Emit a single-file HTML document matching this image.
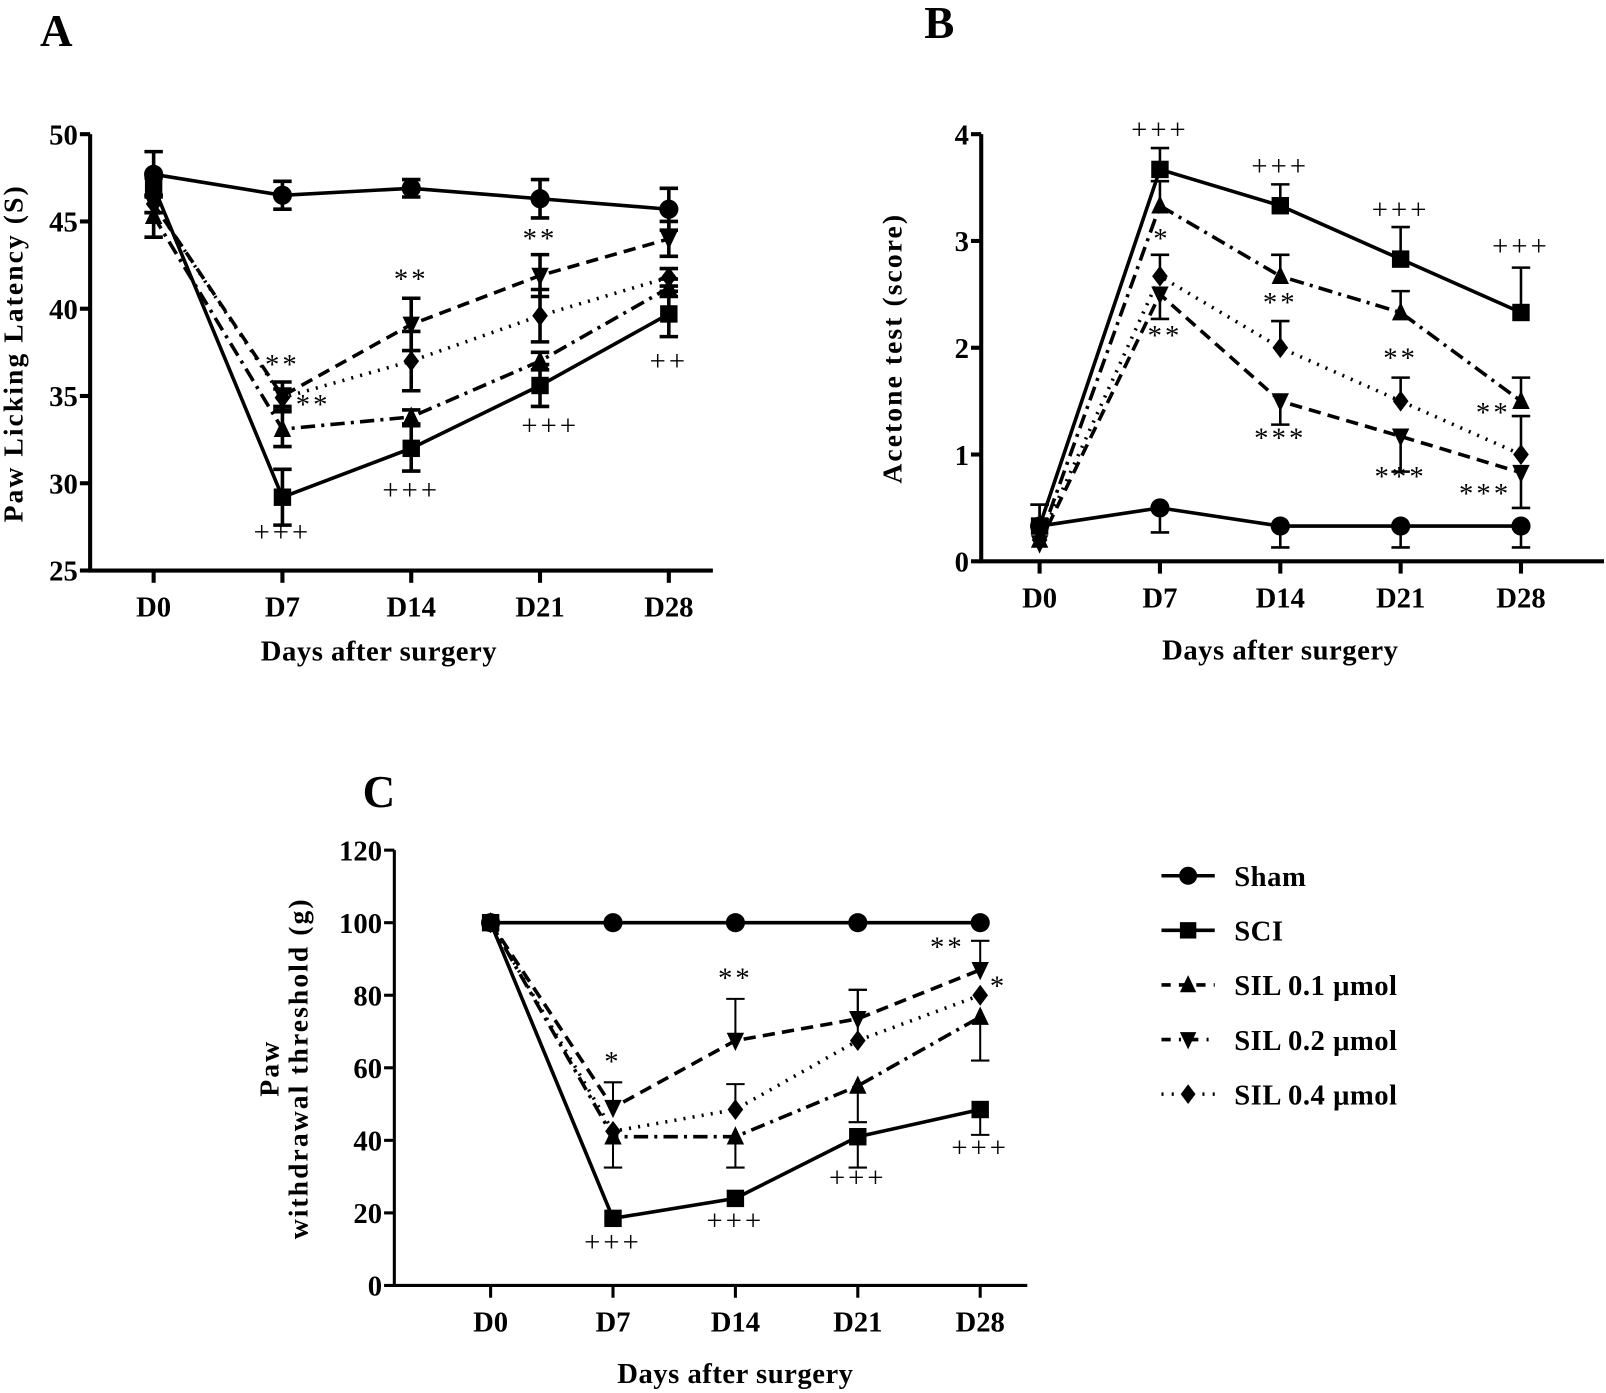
<!DOCTYPE html>
<html><head><meta charset="utf-8">
<style>
html,body{margin:0;padding:0;background:#fff;}
svg{display:block;}
text{font-family:"Liberation Serif",serif;fill:#000;}
</style></head>
<body>
<svg id="fig" width="1606" height="1393" viewBox="0 0 1568 1360" preserveAspectRatio="none" xmlns="http://www.w3.org/2000/svg"></svg>
<script>
const days = ["D0","D7","D14","D21","D28"];
const seriesNames = ["Sham","SCI","SIL 0.1 μmol","SIL 0.2 μmol","SIL 0.4 μmol"];
// Panel A
const aTicks = [25,30,35,40,45,50];
const aSham = [47.7,46.5,46.9,46.3,45.7];
const aSCI = [47.0,29.2,32.0,35.6,39.7];
const aSil1 = [45.3,33.1,33.8,37.0,41.2];
const aSil2 = [46.0,35.0,39.1,41.9,44.0];
const aSil4 = [46.0,34.9,37.0,39.6,41.8];
const aShamErr = [1.3,0.8,0.5,1.1,1.2];
const aSCIErr = [0.5,1.6,1.3,1.2,1.3];
const aSil1Err = [1.2,1.0,0.4,0.5,0.5];
const aSil2Err = [0.5,0.8,1.5,1.2,1.0];
const aSil4Err = [0.5,0.5,1.7,1.5,0.5];
const aAnnot = [[1,36.8,"**",0],[1,34.5,"**",30],[1,27.2,"+++",0],[2,41.7,"**",0],[2,29.6,"+++",0],[3,44.0,"**",0],[3,33.3,"+++",10],[4,37.0,"++",0]];
// Panel B
const bTicks = [0,1,2,3,4];
const bSham = [0.33,0.5,0.33,0.33,0.33];
const bSCI = [0.33,3.67,3.33,2.83,2.33];
const bSil1 = [0.2,3.33,2.67,2.33,1.5];
const bSil2 = [0.17,2.5,1.5,1.17,0.83];
const bSil4 = [0.2,2.67,2.0,1.5,1.0];
const bShamErr = [0.2,-0.23,-0.2,-0.2,-0.2];
const bSCIErr = [0.2,0.2,0.2,0.3,0.42];
const bSil1Err = [0,0.23,0.2,0.2,0.22];
const bSil2Err = [0,-0.23,-0.22,-0.33,-0.33];
const bSil4Err = [0,0.2,0.25,0.22,0.36];
const bAnnot = [[1,4.04,"+++",0],[2,3.70,"+++",0],[3,3.29,"+++",0],[4,2.95,"+++",0],[1,3.02,"*",2],[1,2.11,"**",5],[2,2.42,"**",0],[2,1.15,"***",0],[3,1.90,"**",0],[3,0.79,"***",0],[4,1.39,"**",-27],[4,0.63,"***",-35]];
// Panel C
const cTicks = [0,20,40,60,80,100,120];
const cSham = [100,100,100,100,100];
const cSCI = [100,18.5,24,41,48.5];
const cSil1 = [100,41,41,55,74];
const cSil2 = [100,49,67.5,73.5,87];
const cSil4 = [100,42.5,48.5,67.5,80];
const cShamErr = [0,0,0,0,0];
const cSCIErr = [0,0,0,-8.5,-7];
const cSil1Err = [0,-8.5,-8.5,-10,-12];
const cSil2Err = [0,7,11.5,8,8];
const cSil4Err = [0,0,7,14,0];
const cAnnot = [[1,61.6,"*",0],[1,11.9,"+++",0],[2,84.7,"**",0],[2,17.8,"+++",0],[3,29.7,"+++",0],[4,93.2,"**",-32],[4,82.5,"*",18],[4,38,"+++",0]];

const NS="http://www.w3.org/2000/svg";
const svg=document.getElementById('fig');
function el(tag,attrs,parent){const e=document.createElementNS(NS,tag);for(const k in attrs)e.setAttribute(k,attrs[k]);(parent||svg).appendChild(e);return e;}
const dashes=["","","14 6 3 6","12 7","2 7"];
const markers=["circle","square","tri","invtri","diamond"];
function marker(g,type,x,y,s){
  let m;
  if(type==="circle") m=el('circle',{cx:x,cy:y,r:s*0.55,fill:'#000'},g);
  else if(type==="square") m=el('rect',{x:x-s*0.5,y:y-s*0.5,width:s,height:s,fill:'#000'},g);
  else if(type==="tri") m=el('polygon',{points:`${x},${y-s*0.6} ${x-s*0.5},${y+s*0.45} ${x+s*0.5},${y+s*0.45}`,fill:'#000'},g);
  else if(type==="invtri") m=el('polygon',{points:`${x},${y+s*0.6} ${x-s*0.5},${y-s*0.45} ${x+s*0.5},${y-s*0.45}`,fill:'#000'},g);
  else m=el('polygon',{points:`${x},${y-s*0.6} ${x+s*0.45},${y} ${x},${y+s*0.6} ${x-s*0.45},${y}`,fill:'#000'},g);
  
  
}
function panel(cfg){
  const g=el('g',{});
  
  
  const yS=v=>cfg.y0-(v-cfg.ymin)/(cfg.ymax-cfg.ymin)*(cfg.y0-cfg.y1);
  const xS=i=>cfg.xs[0]+i*(cfg.xs[1]-cfg.xs[0])/4;
  const lbl=el('text',{x:cfg.letter[0],y:cfg.letter[1],'font-size':44,'font-weight':'bold','text-anchor':'middle'},g);
  lbl.textContent=cfg.id;
  
  const ya=el('line',{x1:cfg.ax,y1:cfg.y1,x2:cfg.ax,y2:cfg.y0,stroke:'#000','stroke-width':cfg.aw},g);
  
  const xa=el('line',{x1:cfg.ax-cfg.aw/2,y1:cfg.y0,x2:cfg.xend,y2:cfg.y0,stroke:'#000','stroke-width':cfg.aw},g);
  
  cfg.ticks.forEach(t=>{
    const y=yS(t);
    el('line',{x1:cfg.ax-10,y1:y,x2:cfg.ax,y2:y,stroke:'#000','stroke-width':cfg.aw},g);
    const tx=el('text',{x:cfg.ax-12,y:y+10,'font-size':cfg.tf,'font-weight':'bold','text-anchor':'end'},g);
    tx.textContent=t;
    
  });
  days.forEach((d,i)=>{
    const x=xS(i);
    el('line',{x1:x,y1:cfg.y0,x2:x,y2:cfg.y0+12,stroke:'#000','stroke-width':cfg.aw},g);
    const tx=el('text',{x:x,y:cfg.y0+45,'font-size':cfg.tf,'font-weight':'bold','text-anchor':'middle'},g);
    tx.textContent=d;
    
  });
  const xt=el('text',{x:cfg.xtitle[0],y:cfg.xtitle[1],'font-size':28,'font-weight':'bold','text-anchor':'middle','letter-spacing':0.5},g);
  xt.textContent='Days after surgery';
  
  cfg.ytitle.forEach(([tx,x,y])=>{
    const t=el('text',{x:x,y:y,'font-size':27,'font-weight':'bold','text-anchor':'middle','letter-spacing':2,transform:`rotate(-90 ${x} ${y})`},g);
    t.textContent=tx;
    
  });
  cfg.series.forEach((vals,si)=>{
    const errs=cfg.errs[si];
    const sg=el('g',{},g);
    
    
    vals.forEach((v,i)=>{
      const e=errs[i]; if(!e) return;
      const x=xS(i), y=yS(v), ys=cfg.both?[yS(v+Math.abs(e)),yS(v-Math.abs(e))]:[yS(v+e)];
      ys.forEach(ye=>{
        const l=el('line',{x1:x,y1:y,x2:x,y2:ye,stroke:'#000','stroke-width':cfg.ew},sg);
        
        el('line',{x1:x-9,y1:ye,x2:x+9,y2:ye,stroke:'#000','stroke-width':cfg.ew},sg);
      });
    });
    const pts=vals.map((v,i)=>xS(i)+','+yS(v)).join(' ');
    const pl=el('polyline',{points:pts,fill:'none',stroke:'#000','stroke-width':3.5,'stroke-dasharray':dashes[si]},sg);
    
    vals.forEach((v,i)=>marker(sg,markers[si],xS(i),yS(v),cfg.ms));
  });
  cfg.annot.forEach(([i,v,t,dx])=>{
    const a=el('text',{x:xS(i)+dx,y:yS(v)+9,'font-size':28,'text-anchor':'middle','letter-spacing':3},g);
    a.textContent=t;
    
  });
}
panel({id:'A',letter:[55,45],ax:88,xend:696,y0:557,y1:131,ymin:25,ymax:50,xs:[150,653],ticks:aTicks,aw:4,tf:28,ew:3.5,ms:17,both:true,
  xtitle:[370,645],ytitle:[['Paw Licking Latency (S)',22,345]],
  series:[aSham,aSCI,aSil1,aSil2,aSil4],errs:[aShamErr,aSCIErr,aSil1Err,aSil2Err,aSil4Err],annot:aAnnot});
panel({id:'B',letter:[917,37],ax:958,xend:1566,y0:548,y1:131,ymin:0,ymax:4,xs:[1015,1485],ticks:bTicks,aw:4,tf:28,ew:2.5,ms:17,both:false,
  xtitle:[1250,644],ytitle:[['Acetone test (score)',880,340]],
  series:[bSham,bSCI,bSil1,bSil2,bSil4],errs:[bShamErr,bSCIErr,bSil1Err,bSil2Err,bSil4Err],annot:bAnnot});
panel({id:'C',letter:[370,788],ax:385,xend:1003,y0:1255,y1:830,ymin:0,ymax:120,xs:[479,957],ticks:cTicks,aw:3,tf:28,ew:2,ms:17,both:false,
  xtitle:[718,1350],ytitle:[['Paw',272,1043],['withdrawal threshold (g)',300,1043]],
  series:[cSham,cSCI,cSil1,cSil2,cSil4],errs:[cShamErr,cSCIErr,cSil1Err,cSil2Err,cSil4Err],annot:cAnnot});
const lg=el('g',{});


const legDash=["","","9 8","9 8 2 8","2 8"];
seriesNames.forEach((n,i)=>{
  const y=855+i*53.3;
  const eg=el('g',{},lg);
  
  
  el('line',{x1:1134,y1:y,x2:1186,y2:y,stroke:'#000','stroke-width':3.5,'stroke-dasharray':legDash[i]},eg);
  marker(eg,markers[i],1160,y,16);
  const t=el('text',{x:1205,y:y+10,'font-size':28,'font-weight':'bold','letter-spacing':0.5},eg);
  t.textContent=n;
  
  
});
</script>
</body></html>
